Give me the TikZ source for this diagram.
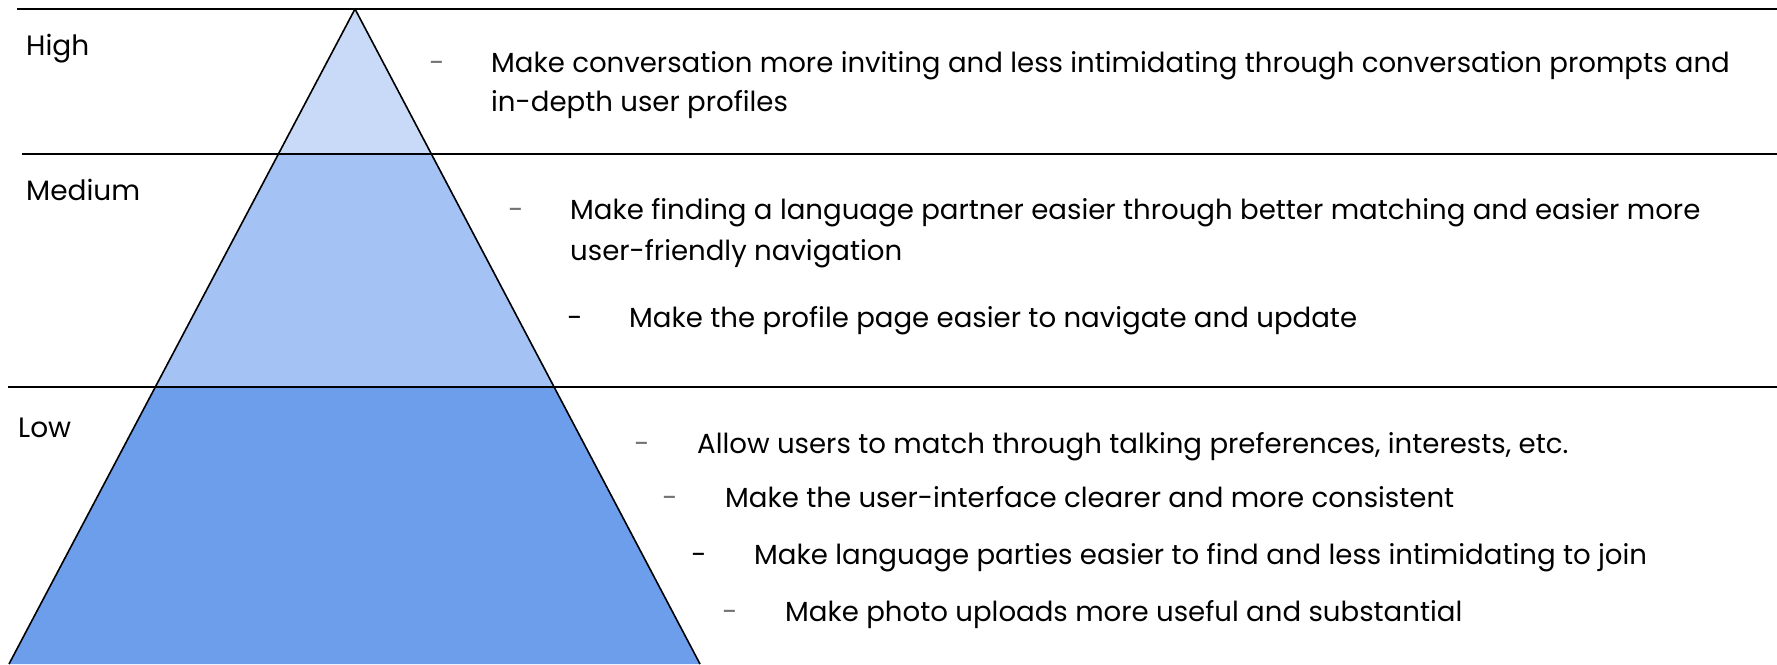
\documentclass[tikz,border=0pt]{standalone}
\usepackage{fontspec}
\setmainfont{Poppins}
\usepackage{xcolor}
\usetikzlibrary{calc}

\definecolor{highfill}{HTML}{C9DAF8}
\definecolor{mediumfill}{HTML}{A4C2F4}
\definecolor{lowfill}{HTML}{6D9EEB}

\begin{document}
\begin{tikzpicture}[
x=1pt, y=-1pt,
rule/.style={draw=black, line width=1.6pt},
level/.style={font=\fontsize{28}{32}\selectfont, anchor=base west, inner sep=0pt},
item/.style={font=\fontsize{27.6}{32}\selectfont, anchor=base west, inner sep=0pt},
bullet/.style={font=\fontsize{27.6}{32}\selectfont, anchor=base, inner sep=0pt, text=black!55},
boldbullet/.style={bullet, text=black}
]
\useasboundingbox (0,0) rectangle (1777,664);

% Pyramid corners
\coordinate (apex) at (355,9);
\coordinate (botleft) at (9,664);
\coordinate (botright) at (700,664);
\coordinate (hl) at ($(apex)!0.2214!(botleft)$);
\coordinate (hr) at ($(apex)!0.2214!(botright)$);
\coordinate (ml) at ($(apex)!0.5771!(botleft)$);
\coordinate (mr) at ($(apex)!0.5771!(botright)$);

% Layers
\fill[highfill] (apex) -- (hl) -- (hr) -- cycle;
\fill[mediumfill] (hl) -- (hr) -- (mr) -- (ml) -- cycle;
\fill[lowfill] (ml) -- (mr) -- (botright) -- (botleft) -- cycle;
\draw[rule, line join=round] (botleft) -- (apex) -- (botright);

% Rules
\draw[rule] (17,9) -- (1777,9);
\draw[rule] (22,154) -- (1777,154);
\draw[rule] (8,387) -- (1777,387);

% Levels
\node[level] (high) at (26,55) {High};
\node[level] (medium) at (26,200) {Medium};
\node[level] (low) at (18,437) {Low};

% High items
\node[bullet] (hdash) at (437,72) {-};
\node[item] (hitem) at (491,72) {Make conversation more inviting and less intimidating through conversation prompts and};
\node[item] (hitemb) at (491,111) {in-depth user profiles};

% Medium items
\node[bullet] (mdash) at (516,219) {-};
\node[item] (mitem) at (570,219) {Make finding a language partner easier through better matching and easier more};
\node[item] (mitemb) at (570,260) {user-friendly navigation};
\node[boldbullet] (mdashb) at (575,327) {-};
\node[item] (mitemc) at (629,327) {Make the profile page easier to navigate and update};

% Low items
\node[bullet] (ldash) at (642,453) {-};
\node[item] (litem) at (697,453) {Allow users to match through talking preferences, interests, etc.};
\node[bullet] (ldashb) at (670,507) {-};
\node[item] (litemb) at (725,507) {Make the user-interface clearer and more consistent};
\node[boldbullet] (ldashc) at (699,564) {-};
\node[item] (litemc) at (754,564) {Make language parties easier to find and less intimidating to join};
\node[bullet] (ldashd) at (730,621) {-};
\node[item] (litemd) at (785,621) {Make photo uploads more useful and substantial};
\end{tikzpicture}
\end{document}
